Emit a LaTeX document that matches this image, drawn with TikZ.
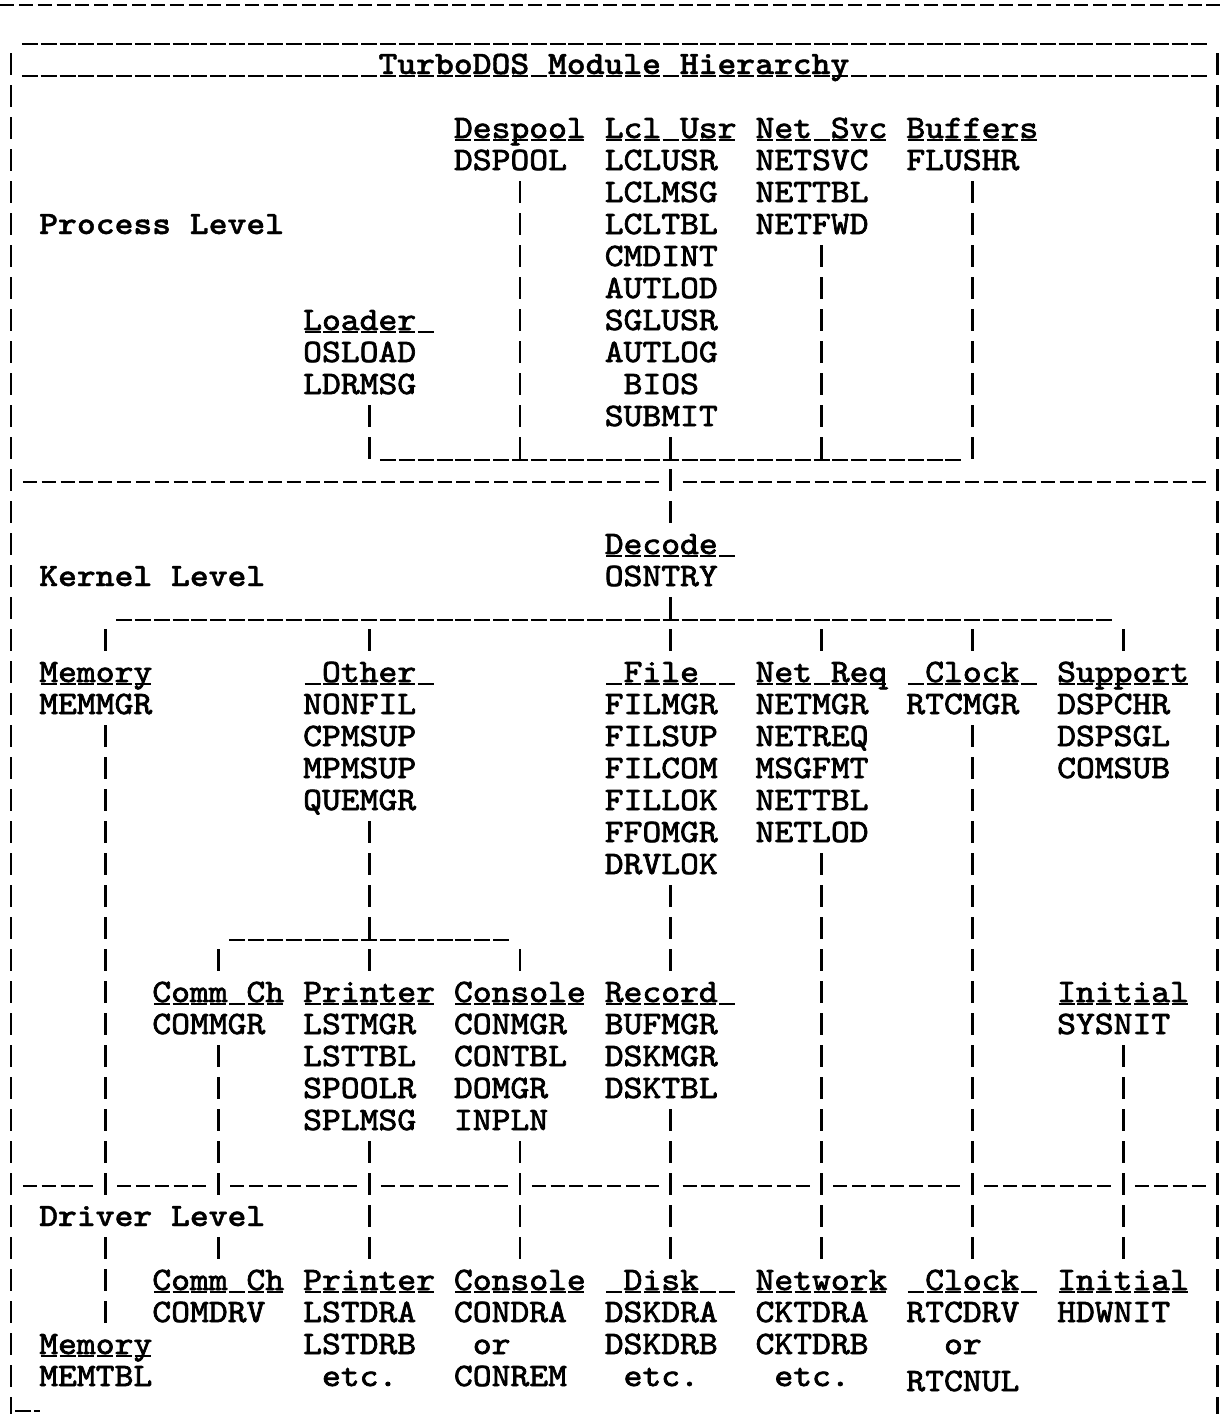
\documentclass[tikz,border=0pt]{standalone}
\usepackage{fontspec}
\newfontfamily\twx[FakeStretch=1.098,FakeBold=2.2]{lmmono10-regular.otf}
\newfontfamily\twh[FakeStretch=1.098,FakeBold=1.2]{lmmonolt10-bold.otf}
\tikzset{
 txt/.style={anchor=base west, inner sep=0pt, outer sep=0pt, font=\twx\fontsize{24.5}{24.5}\selectfont},
 bld/.style={anchor=base west, inner sep=0pt, outer sep=0pt, font=\twh\fontsize{24.5}{24.5}\selectfont},
 vbar/.style={line width=2.1pt, dash pattern=on 16.5pt off 7.5pt},
 hdash/.style={line width=1.9pt, dash pattern=on 10.5pt off 3.6375pt},
 uscore/.style={line width=1.8pt, dash pattern=on 12pt off 2.1375pt},
}
% text node: name, column, row, text
\newcommand\mytx[4]{\node[txt] (#1) at ({11+18.85*(#2)-9.425},{138+32*(#3)}) {#4};}
\newcommand\mybx[4]{\node[bld] (#1) at ({11+18.85*(#2)-9.425},{138+32*(#3)}) {#4};}
% vertical bar run: name, column, first row, last row
\newcommand\myvb[4]{\coordinate (#1a) at ({11+18.85*(#2)},{117+32*(#3)});
 \coordinate (#1b) at ({11+18.85*(#2)},{139+32*(#4)});
 \draw[vbar] (#1a) -- (#1b);}
% underscore run: name, first column, last column, row
\newcommand\myul{\myulx}
\newcommand\myulx[4]{\coordinate (#1a) at ({11+18.85*(#2)-9.425+1.4},{140+32*(#4)});
 \coordinate (#1b) at ({11+18.85*(#3)+9.425},{140+32*(#4)});
 \draw[uscore] (#1a) -- (#1b);}
% dash run: name, first column, last column, row
\newcommand\mydl[4]{\coordinate (#1a) at ({11+18.85*(#2)-9.425+2.4},{130+32*(#4)});
 \coordinate (#1b) at ({11+18.85*(#3)+9.425-2.4},{130+32*(#4)});
 \draw[hdash] (#1a) -- (#1b);}
\begin{document}
\begin{tikzpicture}[x=0.75pt,y=-0.75pt]
\fill[white] (0,0) rectangle (1224,1414);
\useasboundingbox (0,0) rectangle (1224,1414);

% top rules
\coordinate (top1) at (0,5); \coordinate (top2) at (1224,5);
\draw[hdash] (top1) -- (top2);
\myul{rtop}{1}{63}{-3}
\myul{rtitle}{1}{63}{-2}
\mybx{title}{20}{-2}{TurboDOS Module Hierarchy}

% borders
\myvb{bl}{0}{-2}{40}
\myvb{br}{64}{-2}{40}
\coordinate (bot1) at (15,1411); \coordinate (bot2) at (40,1411);
\draw[uscore] (bot1) -- (bot2);

% ---------------- Process level
\mybx{proc}{2}{3}{Process Level}
\mytx{hdesp}{24}{0}{Despool}\myul{udesp}{24}{30}{0}
\mytx{hlcl}{32}{0}{Lcl Usr}\myul{ulcl}{32}{38}{0}
\mytx{hnet}{40}{0}{Net Svc}\myul{unet}{40}{46}{0}
\mytx{hbuf}{48}{0}{Buffers}\myul{ubuf}{48}{54}{0}
\mytx{dspool}{24}{1}{DSPOOL}
\mytx{lclusr}{32}{1}{LCLUSR}
\mytx{netsvc}{40}{1}{NETSVC}
\mytx{flushr}{48}{1}{FLUSHR}
\mytx{lclmsg}{32}{2}{LCLMSG}
\mytx{nettbla}{40}{2}{NETTBL}
\mytx{lcltbl}{32}{3}{LCLTBL}
\mytx{netfwd}{40}{3}{NETFWD}
\mytx{cmdint}{32}{4}{CMDINT}
\mytx{autlod}{32}{5}{AUTLOD}
\mytx{hload}{16}{6}{Loader}\myul{uload}{16}{22}{6}
\mytx{sglusr}{32}{6}{SGLUSR}
\mytx{osload}{16}{7}{OSLOAD}
\mytx{autlog}{32}{7}{AUTLOG}
\mytx{ldrmsg}{16}{8}{LDRMSG}
\mytx{bios}{33}{8}{BIOS}
\mytx{submit}{32}{9}{SUBMIT}

\myvb{vld}{19}{9}{10}
\myvb{vds}{27}{2}{10}
\myvb{vlu}{35}{10}{12}
\myvb{vns}{43}{4}{10}
\myvb{vbf}{51}{2}{10}
\myul{bus1}{20}{50}{10}

% separator process / kernel
\mydl{sep1a}{1}{34}{11}
\mydl{sep1b}{36}{63}{11}

% ---------------- Kernel level
\mybx{kern}{2}{14}{Kernel Level}
\mytx{hdec}{32}{13}{Decode}\myul{udec}{32}{38}{13}
\mytx{osntry}{32}{14}{OSNTRY}
\myvb{vos}{35}{15}{16}
\myul{bus2}{6}{58}{15}
\myvb{vma}{5}{16}{16}
\myvb{voa}{19}{16}{16}
\myvb{vna}{43}{16}{16}
\myvb{vca}{51}{16}{16}
\myvb{vsa}{59}{16}{16}

\mytx{hmem}{2}{17}{Memory}\myul{umem}{2}{7}{17}
\mytx{hoth}{17}{17}{Other}\myul{uoth}{16}{22}{17}
\mytx{hfil}{33}{17}{File}\myul{ufil}{32}{38}{17}
\mytx{hnrq}{40}{17}{Net Req}\myul{unrq}{40}{46}{17}
\mytx{hclk}{49}{17}{Clock}\myul{uclk}{48}{54}{17}
\mytx{hsup}{56}{17}{Support}\myul{usup}{56}{62}{17}

\mytx{memmgr}{2}{18}{MEMMGR}
\mytx{nonfil}{16}{18}{NONFIL}
\mytx{filmgr}{32}{18}{FILMGR}
\mytx{netmgr}{40}{18}{NETMGR}
\mytx{rtcmgr}{48}{18}{RTCMGR}
\mytx{dspchr}{56}{18}{DSPCHR}
\mytx{cpmsup}{16}{19}{CPMSUP}
\mytx{filsup}{32}{19}{FILSUP}
\mytx{netreq}{40}{19}{NETREQ}
\mytx{dspsgl}{56}{19}{DSPSGL}
\mytx{mpmsup}{16}{20}{MPMSUP}
\mytx{filcom}{32}{20}{FILCOM}
\mytx{msgfmt}{40}{20}{MSGFMT}
\mytx{comsub}{56}{20}{COMSUB}
\mytx{quemgr}{16}{21}{QUEMGR}
\mytx{fillok}{32}{21}{FILLOK}
\mytx{nettblb}{40}{21}{NETTBL}
\mytx{ffomgr}{32}{22}{FFOMGR}
\mytx{netlod}{40}{22}{NETLOD}
\mytx{drvlok}{32}{23}{DRVLOK}

\myvb{vm1}{5}{19}{33}
\myvb{vm2}{5}{35}{37}
\myvb{vot}{19}{22}{26}
\myul{bus3}{12}{26}{25}
\myvb{vcca}{11}{26}{26}
\myvb{vcna}{27}{26}{26}
\myvb{vfi}{35}{24}{26}
\myvb{vnr}{43}{23}{35}
\myvb{vcl}{51}{19}{35}

\mytx{hcom}{8}{27}{Comm Ch}\myul{ucom}{8}{14}{27}
\mytx{hprn}{16}{27}{Printer}\myul{uprn}{16}{22}{27}
\mytx{hcon}{24}{27}{Console}\myul{ucon}{24}{30}{27}
\mytx{hrec}{32}{27}{Record}\myul{urec}{32}{38}{27}
\mytx{hini}{56}{27}{Initial}\myul{uini}{56}{62}{27}

\mytx{commgr}{8}{28}{COMMGR}
\mytx{lstmgr}{16}{28}{LSTMGR}
\mytx{conmgr}{24}{28}{CONMGR}
\mytx{bufmgr}{32}{28}{BUFMGR}
\mytx{sysnit}{56}{28}{SYSNIT}
\mytx{lsttbl}{16}{29}{LSTTBL}
\mytx{contbl}{24}{29}{CONTBL}
\mytx{dskmgr}{32}{29}{DSKMGR}
\mytx{spoolr}{16}{30}{SPOOLR}
\mytx{domgr}{24}{30}{DOMGR}
\mytx{dsktbl}{32}{30}{DSKTBL}
\mytx{splmsg}{16}{31}{SPLMSG}
\mytx{inpln}{24}{31}{INPLN}

\myvb{vin}{59}{29}{35}
\myvb{vcc1}{11}{29}{33}
\myvb{vcc2}{11}{35}{35}
\myvb{vpr}{19}{32}{35}
\myvb{vcn}{27}{32}{35}
\myvb{vrc}{35}{31}{35}

% separator kernel / driver
\mydl{s2a}{1}{4}{33}
\mydl{s2b}{6}{10}{33}
\mydl{s2c}{12}{18}{33}
\mydl{s2d}{20}{26}{33}
\mydl{s2e}{28}{34}{33}
\mydl{s2f}{36}{42}{33}
\mydl{s2g}{44}{50}{33}
\mydl{s2h}{52}{58}{33}
\mydl{s2i}{60}{63}{33}

% ---------------- Driver level
\mybx{drv}{2}{34}{Driver Level}
\mytx{dcom}{8}{36}{Comm Ch}\myul{udcom}{8}{14}{36}
\mytx{dprn}{16}{36}{Printer}\myul{udprn}{16}{22}{36}
\mytx{dcon}{24}{36}{Console}\myul{udcon}{24}{30}{36}
\mytx{ddsk}{33}{36}{Disk}\myul{uddsk}{32}{38}{36}
\mytx{dnet}{40}{36}{Network}\myul{udnet}{40}{46}{36}
\mytx{dclk}{49}{36}{Clock}\myul{udclk}{48}{54}{36}
\mytx{dini}{56}{36}{Initial}\myul{udini}{56}{62}{36}

\mytx{comdrv}{8}{37}{COMDRV}
\mytx{lstdra}{16}{37}{LSTDRA}
\mytx{condra}{24}{37}{CONDRA}
\mytx{dskdra}{32}{37}{DSKDRA}
\mytx{cktdra}{40}{37}{CKTDRA}
\mytx{rtcdrv}{48}{37}{RTCDRV}
\mytx{hdwnit}{56}{37}{HDWNIT}

\mytx{dmem}{2}{38}{Memory}\myul{udmem}{2}{7}{38}
\mytx{lstdrb}{16}{38}{LSTDRB}
\mytx{oracon}{25}{38}{or}
\mytx{dskdrb}{32}{38}{DSKDRB}
\mytx{cktdrb}{40}{38}{CKTDRB}
\mytx{orclk}{50}{38}{or}

\mytx{memtbl}{2}{39}{MEMTBL}
\mytx{etca}{17}{39}{etc.}
\mytx{conrem}{24}{39}{CONREM}
\mytx{etcb}{33}{39}{etc.}
\mytx{etcc}{41}{39}{etc.}
\node[txt] (rtcnul) at ({11+18.85*48-9.425},{138+32*39+5}) {RTCNUL};
\end{tikzpicture}
\end{document}
